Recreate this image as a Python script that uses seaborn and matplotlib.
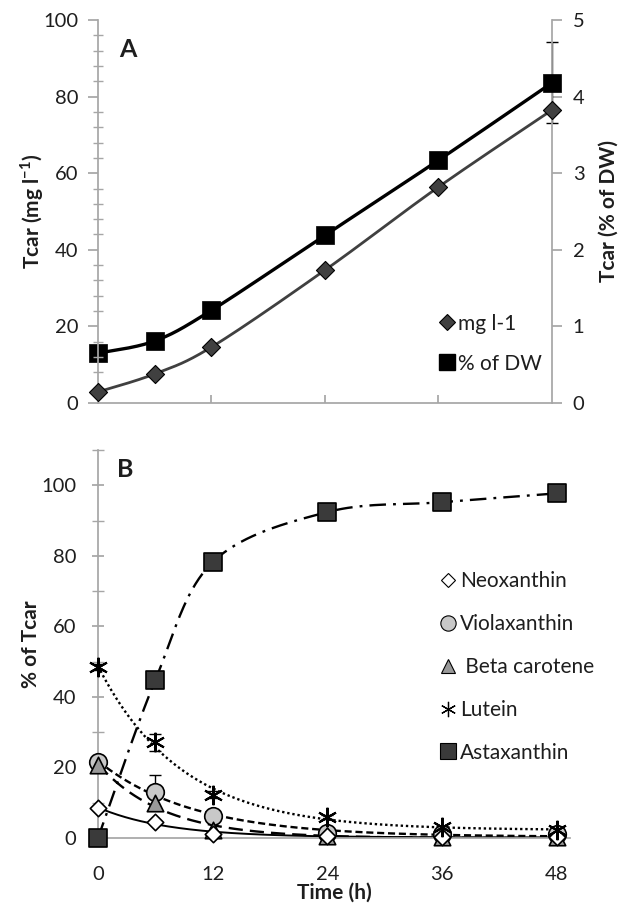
import numpy as np
import pandas as pd
import matplotlib
matplotlib.use("Agg")
import matplotlib.pyplot as plt
import seaborn as sns

# ---------------- data ----------------
time_h = [0, 6, 12, 24, 36, 48]
time_ticks = [0, 12, 24, 36, 48]

# Panel A
tcar_mgl = [2.9, 7.6, 14.6, 34.7, 56.4, 76.5]          # left axis, mg l-1
tcar_dw = [0.65, 0.81, 1.21, 2.19, 3.17, 4.18]         # right axis, % of DW
tcar_dw_err = [0.03, 0.03, 0.04, 0.05, 0.06, 0.53]

# Panel B (% of Tcar)
neoxanthin = [8.5, 4.6, 1.0, 0.5, 0.3, 0.3]
violaxanthin = [21.5, 13.0, 6.2, 1.5, 1.0, 1.0]
violaxanthin_err = [0.5, 4.8, 0.8, 0.3, 0.2, 0.2]
beta_carotene = [20.7, 9.9, 2.3, 0.5, 0.3, 0.3]
lutein = [48.4, 27.2, 12.2, 5.9, 3.2, 2.3]
lutein_err = [0.8, 2.4, 1.0, 0.5, 0.3, 0.3]
astaxanthin = [0.0, 44.8, 78.2, 92.4, 95.2, 97.7]

labels_A = ["mg l-1", "% of DW"]
labels_B = ["Neoxanthin", "Violaxanthin", " Beta carotene", "Lutein", "Astaxanthin"]

# ---------------- style ----------------
sns.set_theme(style="white")
plt.rcParams["font.family"] = ["Lato", "DejaVu Sans"]
plt.rcParams["mathtext.fontset"] = "custom"
plt.rcParams["mathtext.rm"] = "Lato"
plt.rcParams["mathtext.bf"] = "Lato:bold"
TXT = "#1e1e1e"
AX = "#a6a6a6"
TICK_FS = 14.5
LAB_FS = 15
LEG_FS = 15

fig = plt.figure(figsize=(6.2, 9.06), dpi=100)
axA = fig.add_axes([98/620, 1-403/906, (552-98)/620, (403-20)/906])
axB = fig.add_axes([98/620, 1-838/906, 472/620, (838-450)/906])


def exp_decay(t, y):
    """least-squares fit of y = a*exp(-k t) + c (grid over k)"""
    t = np.asarray(t, float); y = np.asarray(y, float)
    best = (np.inf, None)
    for k in np.linspace(0.01, 1.0, 991):
        X = np.column_stack([np.exp(-k * t), np.ones_like(t)])
        coef = np.linalg.lstsq(X, y, rcond=None)[0]
        sse = ((X @ coef - y) ** 2).sum()
        if sse < best[0]:
            best = (sse, (k, coef))
    k, coef = best[1]
    return lambda tt: coef[0] * np.exp(-k * np.asarray(tt)) + coef[1]


def excel_smooth(x, y, n=40):
    """Excel-style smoothed line (Catmull-Rom Bezier) through the points"""
    pts = np.column_stack([x, y]).astype(float)
    P = np.vstack([pts[0], pts, pts[-1]])
    segs = []
    s = np.linspace(0, 1, n)[:, None]
    for i in range(1, len(P) - 2):
        p0, p1, p2, p3 = P[i-1], P[i], P[i+1], P[i+2]
        c1 = p1 + (p2 - p0) / 6
        c2 = p2 - (p3 - p1) / 6
        B = (1-s)**3*p1 + 3*(1-s)**2*s*c1 + 3*(1-s)*s**2*c2 + s**3*p2
        segs.append(B)
    B = np.vstack(segs)
    return B[:, 0], B[:, 1]


tt = np.linspace(0, 48, 300)

# ---------------- Panel A ----------------
axA2 = axA.twinx()
axA.set_zorder(axA2.get_zorder() + 1)
axA.patch.set_visible(False)

sx, sy = excel_smooth(time_h, tcar_mgl)
sns.lineplot(x=sx, y=sy, ax=axA, color="#404040", lw=2.0, estimator=None, sort=False)
sx2, sy2 = excel_smooth(time_h, tcar_dw)
sns.lineplot(x=sx2, y=sy2, ax=axA2, color="black", lw=2.4, estimator=None, sort=False)
axA2.errorbar(time_h, tcar_dw, yerr=tcar_dw_err, fmt="none", ecolor="black",
              elinewidth=1, capsize=4, capthick=1, clip_on=False, zorder=2)
sns.scatterplot(x=time_h, y=tcar_dw, ax=axA2, marker="s", s=160, color="black",
                edgecolor="black", linewidth=0.5, clip_on=False, zorder=3)
sns.scatterplot(x=time_h, y=tcar_mgl, ax=axA, marker="D", s=85, color="#404040",
                edgecolor="black", linewidth=0.8, clip_on=False, zorder=3)

axA.set_xlim(0, 48)
axA.set_ylim(0, 100)
axA2.set_ylim(0, 5)
axA.set_xticks(time_ticks[1:-1])
axA.set_xticklabels([])
axA.set_yticks(range(0, 101, 20))
axA.set_yticks(range(0, 101, 4), minor=True)
axA2.set_yticks(range(0, 6))

for a in (axA, axA2):
    for sp in a.spines.values():
        sp.set_visible(False)
axA.spines["left"].set_visible(True)
axA.spines["bottom"].set_visible(True)
axA2.spines["right"].set_visible(True)
for sp in ("left", "bottom"):
    axA.spines[sp].set_color(AX)
axA2.spines["right"].set_color(AX)

axA.tick_params(axis="y", which="major", direction="out", length=7, color=AX,
                labelsize=TICK_FS, labelcolor=TXT, left=True, pad=7)
axA.tick_params(axis="y", which="minor", direction="inout", length=7, color=AX, left=True)
axA.tick_params(axis="x", which="major", direction="in", length=6, color=AX, bottom=True)
axA2.tick_params(axis="y", which="major", direction="out", length=7, color=AX,
                 labelsize=TICK_FS, labelcolor=TXT, right=True, pad=8)

axA.set_ylabel(r"Tcar (mg l$^{\mathbf{-1}}$)", fontsize=LAB_FS, fontweight="bold",
               color=TXT, labelpad=-2)
axA2.set_ylabel("Tcar (% of DW)", fontsize=LAB_FS, fontweight="bold", color=TXT,
                labelpad=10, rotation=90)
axA.set_xlabel("")
axA2.set_xlabel("")
axA.text(0.066, 0.922, "A", transform=axA.transAxes, fontsize=18, fontweight="bold",
         color=TXT, va="center", ha="center")

hA = [
    plt.Line2D([], [], ls="none", marker="D", ms=8, mfc="#404040", mec="black", mew=0.8),
    plt.Line2D([], [], ls="none", marker="s", ms=11, mfc="black", mec="black"),
]
axA.legend(hA, labels_A, loc="center left", bbox_to_anchor=(0.745, 0.155),
           frameon=False, fontsize=LEG_FS, handletextpad=0.05, labelspacing=0.95,
           handlelength=1.0, borderpad=0, borderaxespad=0, labelcolor=TXT)

# ---------------- Panel B ----------------
f_neo = exp_decay(time_h, neoxanthin)
f_vio = exp_decay(time_h, violaxanthin)
f_beta = exp_decay(time_h, beta_carotene)
f_lut = exp_decay(time_h, lutein)
ax_x, ax_y = excel_smooth(time_h, astaxanthin)

sns.lineplot(x=tt, y=f_neo(tt), ax=axB, color="black", lw=1.4, estimator=None, sort=False)
lv = sns.lineplot(x=tt, y=f_vio(tt), ax=axB, color="black", lw=1.7, estimator=None, sort=False).lines[-1]
lv.set_dashes((3, 1.6))
lb = sns.lineplot(x=tt, y=f_beta(tt), ax=axB, color="black", lw=1.7, estimator=None, sort=False).lines[-1]
lb.set_dashes((6, 3))
ll = sns.lineplot(x=tt, y=f_lut(tt), ax=axB, color="black", lw=1.7, estimator=None, sort=False).lines[-1]
ll.set_dashes((1, 1.2))
la = sns.lineplot(x=ax_x, y=ax_y, ax=axB, color="black", lw=1.7, estimator=None, sort=False).lines[-1]
la.set_dashes((7, 3, 1.2, 3))

axB.errorbar(time_h, violaxanthin, yerr=violaxanthin_err, fmt="none", ecolor="black",
             elinewidth=1, capsize=4, capthick=1, clip_on=False, zorder=2)
axB.errorbar(time_h, lutein, yerr=lutein_err, fmt="none", ecolor="black",
             elinewidth=1, capsize=4, capthick=1, clip_on=False, zorder=2)

sns.scatterplot(x=time_h, y=astaxanthin, ax=axB, marker="s", s=180, color="#3a3a3a",
                edgecolor="black", linewidth=1.2, clip_on=False, zorder=3)
sns.scatterplot(x=time_h, y=violaxanthin, ax=axB, marker="o", s=160, color="#c8c8c8",
                edgecolor="black", linewidth=1.2, clip_on=False, zorder=4)
sns.scatterplot(x=time_h, y=beta_carotene, ax=axB, marker="^", s=140, color="#999999",
                edgecolor="black", linewidth=1.2, clip_on=False, zorder=5)
sns.scatterplot(x=time_h, y=neoxanthin, ax=axB, marker="D", s=70, color="white",
                edgecolor="black", linewidth=1.2, clip_on=False, zorder=5)
axB.plot(time_h, lutein, ls="none", marker=(6, 2, 0), ms=14, mec="black", mew=1.5,
         clip_on=False, zorder=6)

axB.set_xlim(0, 49.4)
axB.set_ylim(0, 110)
axB.set_xticks(time_ticks)
axB.set_xticklabels([str(v) for v in time_ticks])
axB.set_yticks(range(0, 101, 20))
axB.set_yticks(range(0, 111, 10), minor=True)
for sp in ("top", "right"):
    axB.spines[sp].set_visible(False)
for sp in ("left", "bottom"):
    axB.spines[sp].set_color(AX)
axB.tick_params(axis="y", which="major", direction="inout", length=9, color=AX,
                labelsize=TICK_FS, labelcolor=TXT, left=True, pad=11)
axB.tick_params(axis="y", which="minor", direction="inout", length=9, color=AX, left=True)
axB.tick_params(axis="x", which="major", direction="out", length=3, color=AX,
                labelsize=TICK_FS, labelcolor=TXT, bottom=True, pad=17)
axB.set_xlabel("Time (h)", fontsize=LAB_FS, fontweight="bold", color=TXT, labelpad=0)
axB.set_ylabel("% of Tcar", fontsize=LAB_FS, fontweight="bold", color=TXT, labelpad=0)
axB.text(0.058, 0.95, "B", transform=axB.transAxes, fontsize=18, fontweight="bold",
         color=TXT, va="center", ha="center")

hB = [
    plt.Line2D([], [], ls="none", marker="D", ms=7, mfc="white", mec="black", mew=0.8),
    plt.Line2D([], [], ls="none", marker="o", ms=11, mfc="#c8c8c8", mec="black", mew=0.8),
    plt.Line2D([], [], ls="none", marker="^", ms=10, mfc="#999999", mec="black", mew=0.8),
    plt.Line2D([], [], ls="none", marker=(6, 2, 0), ms=11, mec="black", mew=0.9),
    plt.Line2D([], [], ls="none", marker="s", ms=11, mfc="#3a3a3a", mec="black", mew=0.8),
]
axB.legend(hB, labels_B, loc="center left", bbox_to_anchor=(0.72, 0.441),
           frameon=False, fontsize=LEG_FS, handletextpad=0.05, labelspacing=1.1,
           handlelength=1.0, borderpad=0, borderaxespad=0, labelcolor=TXT)

fig.savefig("out.png", dpi=100)
